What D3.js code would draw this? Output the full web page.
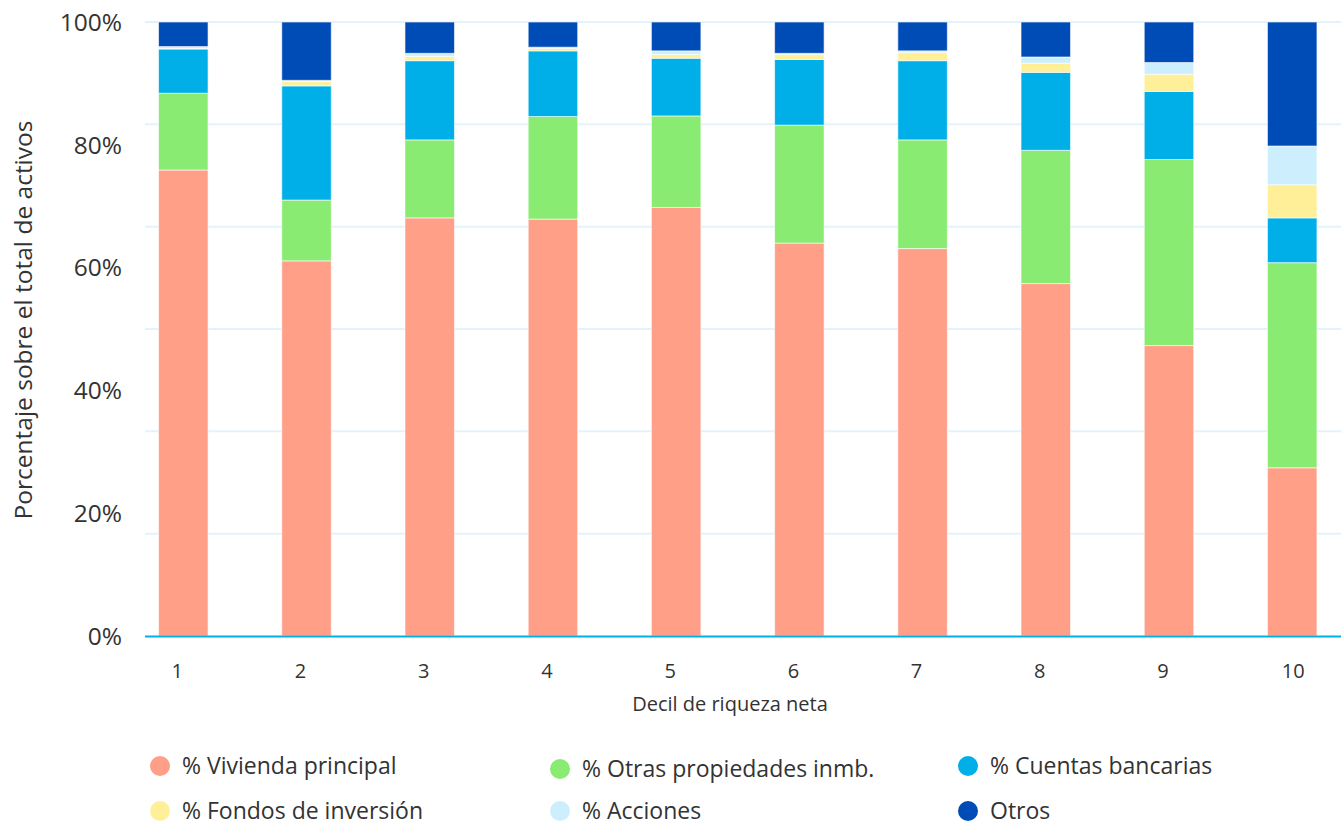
<!DOCTYPE html>
<html lang="es">
<head>
<meta charset="utf-8">
<script src="https://cdn.jsdelivr.net/npm/d3@7"></script>
<style>
  html, body { margin: 0; padding: 0; background: #fff; }
  svg { display: block; font-family: "Open Sans", "Noto Sans", sans-serif; }
</style>
</head>
<body>
<svg id="chart" width="1341" height="825"></svg>
<script>
// Deciles de riqueza neta
const deciles = ["1", "2", "3", "4", "5", "6", "7", "8", "9", "10"];

// Composición de los activos por decil (% sobre el total)
const vivienda = [75.9, 61.1, 68.1, 67.9, 69.8, 64.0, 63.1, 57.4, 47.3, 27.4];
const otrasProp = [12.5, 9.9, 12.7, 16.7, 14.9, 19.2, 17.7, 21.7, 30.3, 33.4];
const cuentas = [7.2, 18.6, 12.9, 10.7, 9.4, 10.7, 12.9, 12.7, 11.1, 7.3];
const fondos = [0.1, 0.7, 0.7, 0.4, 0.6, 0.8, 1.3, 1.5, 2.8, 5.4];
const acciones = [0.3, 0.2, 0.5, 0.2, 0.6, 0.2, 0.3, 1.0, 1.9, 6.3];
const otros = [4.0, 9.5, 5.1, 4.1, 4.7, 5.1, 4.7, 5.7, 6.6, 20.2];

const seriesNames = ["% Vivienda principal", "% Otras propiedades inmb.", "% Cuentas bancarias",
                     "% Fondos de inversión", "% Acciones", "Otros"];
const seriesValues = [vivienda, otrasProp, cuentas, fondos, acciones, otros];
const seriesColors = ["#ff9f88", "#89eb71", "#00afe8", "#ffef99", "#cdeffd", "#004cb7"];

const yTickValues = [0, 20, 40, 60, 80, 100];

const svg = d3.select("#chart");
const textColor = "#333";

const plotLeft = 145, plotRight = 1341;
const y = d3.scaleLinear().domain([0, 100]).range([636, 22]);
const x = d3.scalePoint().domain(deciles).range([183.3, 1292.2]);
const barWidth = 49.5;

// Tabla por decil para el apilado
const keys = seriesNames.map((_, i) => "s" + i);
const rows = deciles.map((d, j) => {
  const r = { decil: d };
  keys.forEach((k, i) => { r[k] = seriesValues[i][j]; });
  return r;
});
const stacked = d3.stack().keys(keys).offset(d3.stackOffsetExpand)(rows);

// Líneas de cuadrícula
const gridValues = d3.range(0, 7).map(i => i * 100 / 6);
svg.append("g").selectAll("line")
  .data(gridValues.filter(v => v > 0))
  .join("line")
  .attr("x1", plotLeft).attr("x2", plotRight)
  .attr("y1", d => y(d)).attr("y2", d => y(d))
  .attr("stroke", "#e3f3fb").attr("stroke-width", 2);

// Barras apiladas
svg.append("g").selectAll("g")
  .data(stacked)
  .join("g")
  .attr("fill", (d, i) => seriesColors[i])
  .selectAll("rect")
  .data(d => d)
  .join("rect")
  .attr("x", d => x(d.data.decil) - barWidth / 2)
  .attr("width", barWidth)
  .attr("y", d => y(d[1] * 100))
  .attr("height", d => y(d[0] * 100) - y(d[1] * 100))
  .attr("stroke", "#ffffff")
  .attr("stroke-opacity", 0.6)
  .attr("stroke-width", 1);

// Eje X
svg.append("line")
  .attr("x1", plotLeft).attr("x2", plotRight)
  .attr("y1", y(0) + 0.5).attr("y2", y(0) + 0.5)
  .attr("stroke", "#00b0e8").attr("stroke-width", 2);

svg.append("g").selectAll("text")
  .data(deciles)
  .join("text")
  .attr("x", d => x(d) + (d.length === 1 ? -6 : 1))
  .attr("y", 678)
  .attr("text-anchor", "middle")
  .attr("font-size", 20)
  .attr("fill", textColor)
  .text(d => d);

svg.append("text")
  .attr("x", 730).attr("y", 711)
  .attr("text-anchor", "middle")
  .attr("font-size", 20)
  .attr("fill", textColor)
  .text("Decil de riqueza neta");

// Eje Y
svg.append("g").selectAll("text")
  .data(yTickValues)
  .join("text")
  .attr("x", 122)
  .attr("y", d => y(d))
  .attr("dy", "0.36em")
  .attr("text-anchor", "end")
  .attr("font-size", 24.5)
  .attr("fill", textColor)
  .text(d => d + "%");

svg.append("text")
  .attr("transform", "translate(32,320) rotate(-90)")
  .attr("text-anchor", "middle")
  .attr("font-size", 24.5)
  .attr("fill", textColor)
  .text("Porcentaje sobre el total de activos");

// Leyenda
const legendCols = [160, 560, 968];
const legendRows = [766, 811];
const legend = svg.append("g").selectAll("g")
  .data(seriesNames)
  .join("g")
  .attr("transform", (d, i) => `translate(${legendCols[i % 3]},${legendRows[Math.floor(i / 3)] + (i === 1 ? 3 : 0)})`);
legend.append("circle")
  .attr("r", 10)
  .attr("fill", (d, i) => seriesColors[i]);
legend.append("text")
  .attr("x", 22)
  .attr("dy", "0.36em")
  .attr("font-size", 23)
  .attr("fill", textColor)
  .text(d => d);
</script>
</body>
</html>
